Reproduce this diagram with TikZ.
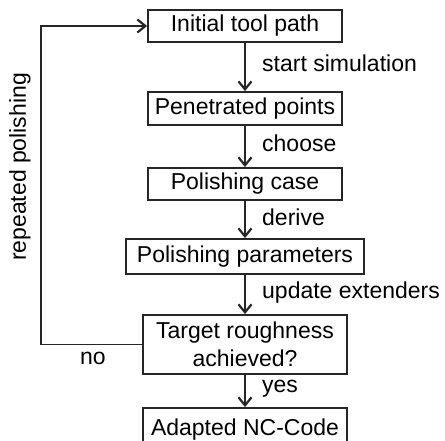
\documentclass[tikz,border=0pt]{standalone}
\usepackage{fontspec}
\setmainfont{Liberation Sans}
\usetikzlibrary{arrows.meta}
\begin{document}
\begin{tikzpicture}[x=1pt,y=1pt,
  font=\fontsize{23}{27.5}\selectfont,
  box/.style={draw=black!85, line width=1.8pt, inner sep=0pt, align=center},
  lbl/.style={anchor=west, inner sep=0pt},
  conn/.style={draw=black!85, line width=1.8pt, -{Straight Barb[length=8pt,width=13pt,line width=2.2pt]}}]
\useasboundingbox (0,0) rectangle (445,441);
\begin{scope}
\clip (0,0) rectangle (445,441);
\node[box, minimum width=194pt, minimum height=32pt] (b1) at (245,415) {Initial tool path};
\node[box, minimum width=194pt, minimum height=33pt] (b2) at (245,332.5) {Penetrated points};
\node[box, minimum width=194pt, minimum height=32pt] (b3) at (245,257) {Polishing case};
\node[box, minimum width=238pt, minimum height=35pt] (b4) at (245,184.5) {Polishing parameters};
\node[box, minimum width=204pt, minimum height=59pt] (b5) at (245,96.5) {Target roughness\\achieved?};
\node[box, minimum width=204pt, minimum height=44pt] (b6) at (245,11) {\raisebox{6pt}{Adapted NC-Code}};
\end{scope}
\draw[conn] (b1) -- (b2);
\draw[conn] (b2) -- (b3);
\draw[conn] (b3) -- (b4);
\draw[conn] (b4) -- (b5);
\draw[conn] (b5) -- (b6);
\coordinate (lb) at (41,96.5);
\coordinate (lt) at (41,415);
\draw[conn] (b5.west) -- (lb) -- (lt) -- (b1.west);
\node[lbl] (l1) at (262,378) {start simulation};
\node[lbl] (l2) at (262,298) {choose};
\node[lbl] (l3) at (262,224) {derive};
\node[lbl] (l4) at (262,148) {update extenders};
\node[lbl] (l5) at (262,52) {yes};
\node (no) at (93,83) {no};
\node[rotate=90] (rp) at (20,274) {repeated polishing};
\end{tikzpicture}
\end{document}
